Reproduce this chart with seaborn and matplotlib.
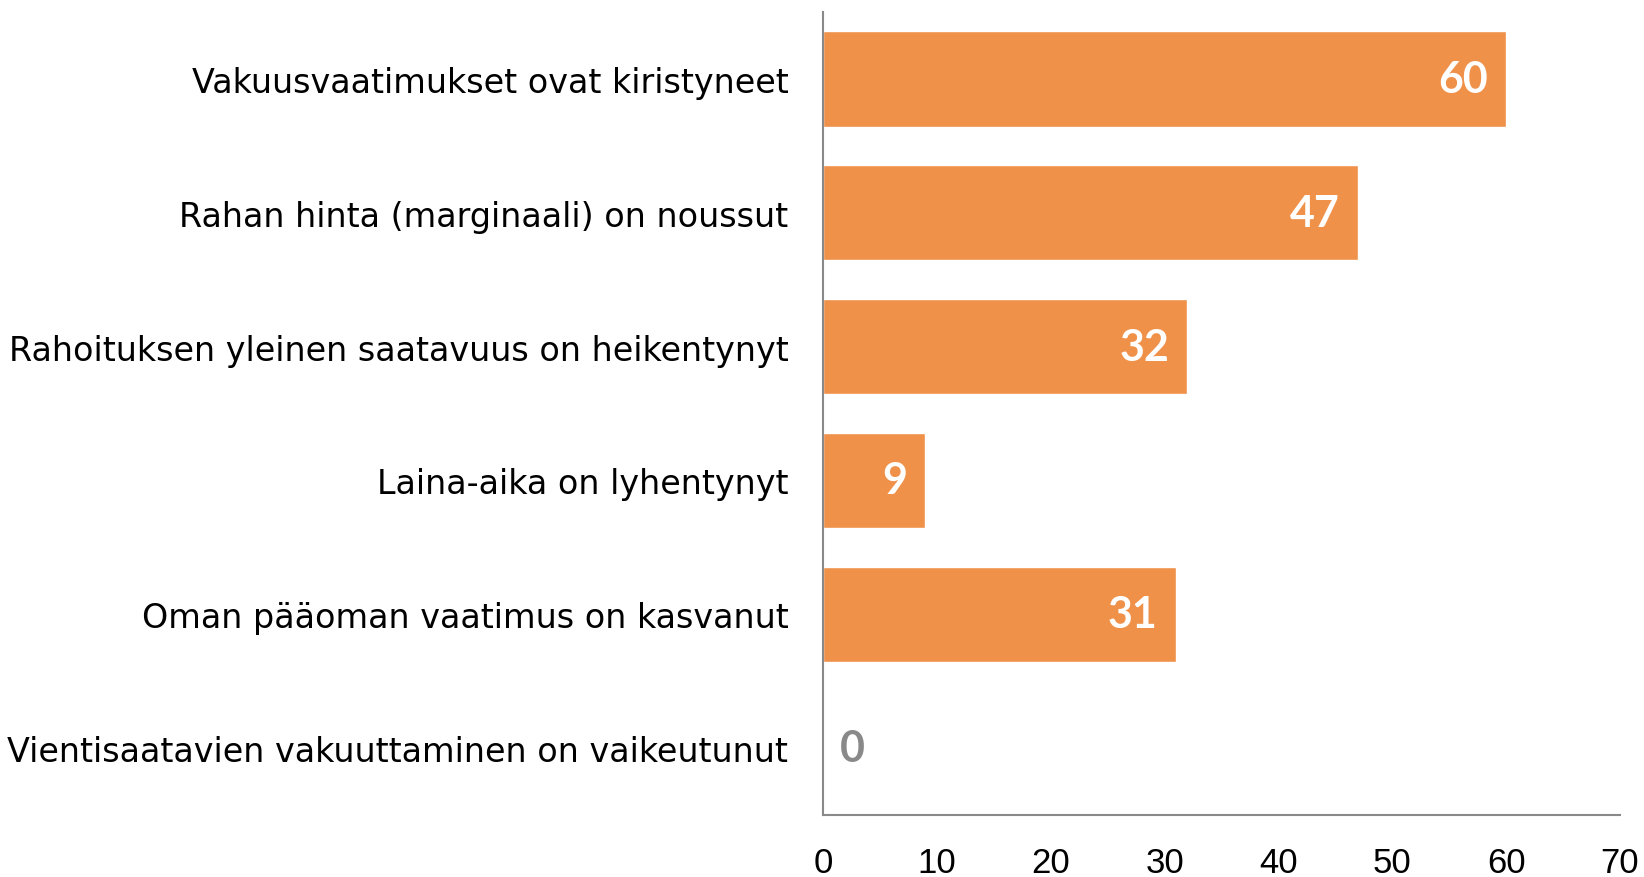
import pandas as pd
import matplotlib
matplotlib.use('Agg')
import matplotlib.pyplot as plt
import seaborn as sns

# Datos
categorias = ['Vakuusvaatimukset ovat kiristyneet',
              'Rahan hinta (marginaali) on noussut',
              'Rahoituksen yleinen saatavuus on heikentynyt',
              'Laina-aika on lyhentynyt',
              'Oman pääoman vaatimus on kasvanut',
              'Vientisaatavien vakuuttaminen on vaikeutunut']
valores = [60, 47, 32, 9, 31, 0]
ticks_x = [0, 10, 20, 30, 40, 50, 60, 70]

df = pd.DataFrame({'categoria': categorias, 'valor': valores})

sns.set_style('white')
plt.rcParams['font.family'] = ['DejaVu Sans']
plt.rcParams['text.color'] = 'black'
plt.rcParams['xtick.color'] = 'black'
plt.rcParams['ytick.color'] = 'black'

fig = plt.figure(figsize=(16.44, 8.78), dpi=100)
ax = fig.add_axes([0.5006, 0.0706, 0.9854 - 0.5006, 0.9852 - 0.0706])

naranja = '#F0914A'
gris = '#898989'

sns.barplot(data=df, x='valor', y='categoria', color=naranja, width=0.713,
            saturation=1, orient='h', ax=ax)

# Etiquetas de valores
for i, v in enumerate(valores):
    if v > 0:
        ax.annotate(f'{v}', (v, i), xytext=(-13, 0), textcoords='offset points',
                    ha='right', va='center', color='white', fontsize=31,
                    fontweight='bold', family='Lato')
    else:
        ax.annotate(f'{v}', (v, i), xytext=(12, 0), textcoords='offset points',
                    ha='left', va='center', color=gris, fontsize=31,
                    fontweight='bold', family='Lato')

ax.set_xlim(0, 70)
ax.set_ylim(5.5, -0.5)
ax.set_xticks(ticks_x)
ax.set_xticklabels([str(t) for t in ticks_x], fontsize=25, family='Liberation Sans')
ax.tick_params(axis='x', length=0, pad=22)
ax.tick_params(axis='y', length=0, pad=25, labelsize=24)
ax.set_xlabel('')
ax.set_ylabel('')

# Eliminar los spines derecho y superior
ax.spines['right'].set_visible(False)
ax.spines['top'].set_visible(False)
for s in ['left', 'bottom']:
    ax.spines[s].set_color(gris)
    ax.spines[s].set_linewidth(1.5)

plt.savefig('out.png', dpi=100)
